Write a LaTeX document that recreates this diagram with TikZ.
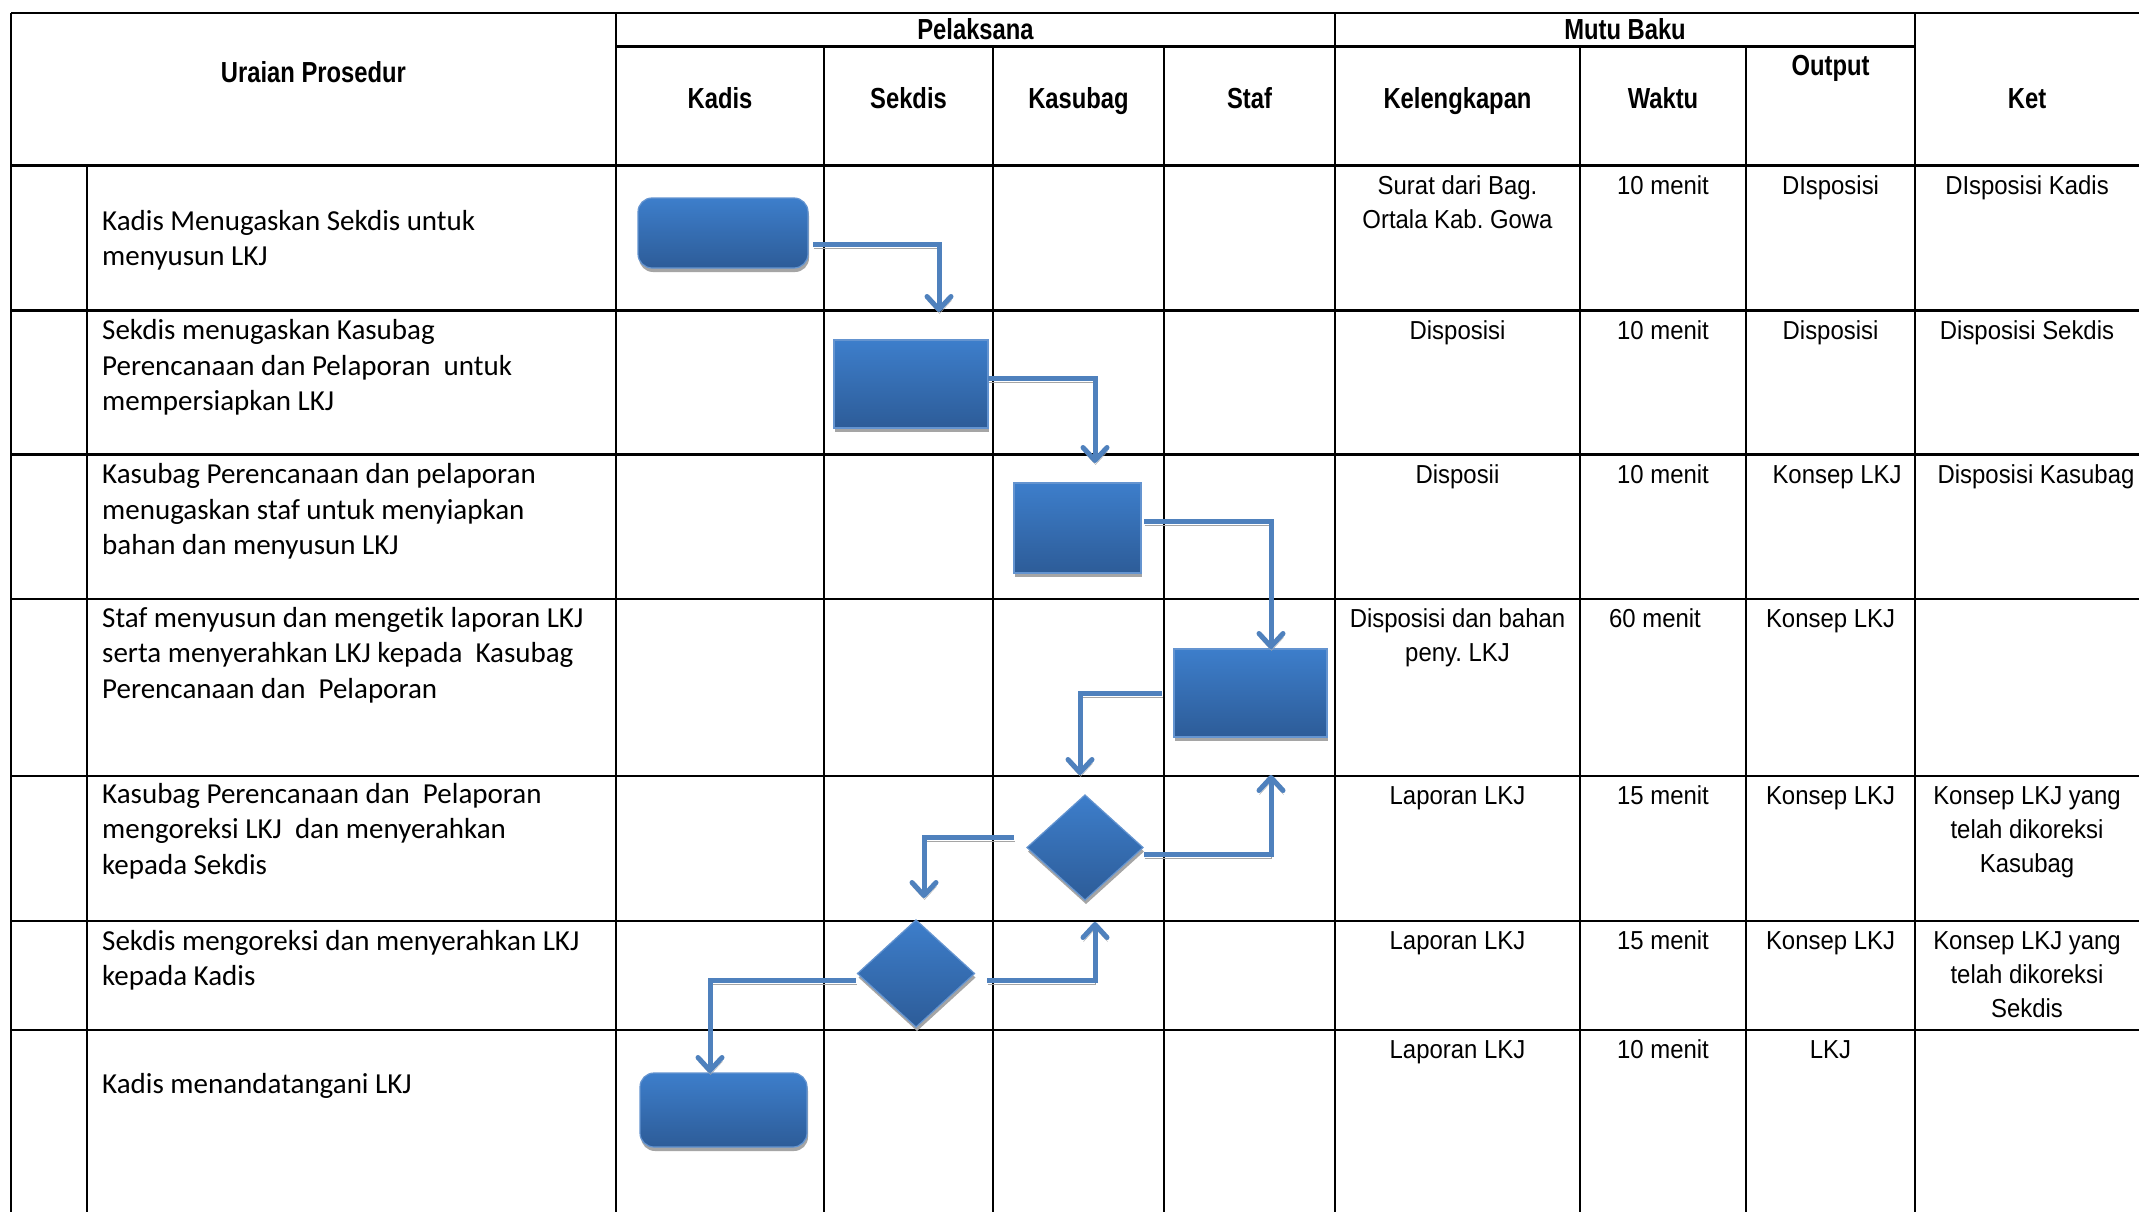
\documentclass[tikz,border=0pt]{standalone}
\usepackage{fontspec}
\usetikzlibrary{shapes.geometric,arrows.meta,shadows}
\newfontfamily\leftfont[Ligatures={NoCommon}]{Carlito}
\newfontfamily\datafont[FakeStretch=0.92]{Liberation Sans}
\newfontfamily\hdrfont[FakeStretch=0.82]{Liberation Sans}
\definecolor{arrc}{RGB}{79,129,189}
\definecolor{shtop}{RGB}{61,126,203}
\definecolor{shbot}{RGB}{45,92,152}
\definecolor{shedge}{RGB}{100,148,208}
\definecolor{shadowc}{RGB}{165,165,165}
\tikzset{
  tline/.style={line width=2.2pt, draw=black},
  lefttxt/.style={anchor=base west, align=left, inner sep=0pt, font=\leftfont\fontsize{29}{35.7}\selectfont},
  datatxt/.style={anchor=base, align=center, inner sep=0pt, font=\datafont\fontsize{26}{34}\selectfont},
  hdrtxt/.style={anchor=base, inner sep=0pt, font=\hdrfont\bfseries\fontsize{29}{34}\selectfont},
  blueshape/.style={draw=shedge, line width=1.2pt, top color=shtop, bottom color=shbot,
    inner sep=0pt, outer sep=0pt,
    drop shadow={shadow xshift=1pt, shadow yshift=-4pt, fill=shadowc, opacity=1}},
  procbox/.style={blueshape, rectangle},
  termbox/.style={blueshape, rectangle, rounded corners=14pt},
  decbox/.style={blueshape, diamond},
  flowarr/.style={draw=arrc, line width=5pt, line join=miter,
    -{Straight Barb[length=13pt,width=24pt,round]},
    preaction={draw=shadowc, transform canvas={shift={(0.5pt,-4pt)}}}}
}
\begin{document}
\frenchspacing
\begin{tikzpicture}[x=1pt,y=-1pt]
\fill[white] (0,0) rectangle (2139,1212);
\useasboundingbox (0,0) rectangle (2139,1212);

% ---------- grid ----------
\draw[tline] (11,13) -- (2139,13);
\draw[tline] (616,46.5) -- (1915,46.5);
\foreach \yy in {165.5,310.5,454.5,599,776,921,1030}
  \draw[tline] (11,\yy) -- (2139,\yy);
\foreach \xx in {11,616,1335,1915}
  \draw[tline] (\xx,13) -- (\xx,1212);
\foreach \xx in {824,993,1164,1580,1746}
  \draw[tline] (\xx,46.5) -- (\xx,1212);
\draw[tline] (87,165.5) -- (87,1212);

% ---------- headers ----------
\node[hdrtxt] (hUraian) at (313.5,82.7) {Uraian Prosedur};
\node[hdrtxt] (hPel) at (975.5,39.3) {Pelaksana};
\node[hdrtxt] (hMutu) at (1625,39.3) {Mutu Baku};
\node[hdrtxt] (hKadis) at (720,108.3) {Kadis};
\node[hdrtxt] (hSekdis) at (908.5,108.3) {Sekdis};
\node[hdrtxt] (hKasubag) at (1078.5,108.3) {Kasubag};
\node[hdrtxt] (hStaf) at (1249.5,108.3) {Staf};
\node[hdrtxt] (hKel) at (1457.5,108.3) {Kelengkapan};
\node[hdrtxt] (hWaktu) at (1663,108.3) {Waktu};
\node[hdrtxt] (hOutput) at (1830.5,76) {Output};
\node[hdrtxt] (hKet) at (2027,108.3) {Ket};

% ---------- left column (anchor = baseline of last line) ----------
\node[lefttxt] (u1) at (102,265.7) {Kadis Menugaskan Sekdis untuk\\menyusun LKJ};
\node[lefttxt] (u2) at (102,410.7) {Sekdis menugaskan Kasubag\\Perencanaan dan Pelaporan\ \ untuk\\mempersiapkan LKJ};
\node[lefttxt] (u3) at (102,554.7) {Kasubag Perencanaan dan pelaporan\\menugaskan staf untuk menyiapkan\\bahan dan menyusun LKJ};
\node[lefttxt] (u4) at (102,698.4) {Staf menyusun dan mengetik laporan LKJ\\serta menyerahkan LKJ kepada\ \ Kasubag\\Perencanaan dan\ \ Pelaporan};
\node[lefttxt] (u5) at (102,874.4) {Kasubag Perencanaan dan\ \ Pelaporan\\mengoreksi LKJ\ \ dan menyerahkan\\kepada Sekdis};
\node[lefttxt] (u6) at (102,985.7) {Sekdis mengoreksi dan menyerahkan LKJ\\kepada Kadis};
\node[lefttxt] (u7) at (102,1093) {Kadis menandatangani LKJ};

% ---------- mutu baku data ----------
\node[datatxt] (k1) at (1457.5,228) {Surat dari Bag.\\Ortala Kab. Gowa};
\node[datatxt] (w1) at (1663,194) {10 menit};
\node[datatxt] (o1) at (1830.5,194) {DIsposisi};
\node[datatxt] (t1) at (2027,194) {DIsposisi Kadis};

\node[datatxt] (k2) at (1457.5,339) {Disposisi};
\node[datatxt] (w2) at (1663,339) {10 menit};
\node[datatxt] (o2) at (1830.5,339) {Disposisi};
\node[datatxt] (t2) at (2027,339) {Disposisi Sekdis};

\node[datatxt] (k3) at (1457.5,483) {Disposii};
\node[datatxt] (w3) at (1663,483) {10 menit};
\node[datatxt] (o3) at (1837,483) {Konsep LKJ};
\node[datatxt] (t3) at (2036,483) {Disposisi Kasubag};

\node[datatxt] (k4) at (1457.5,661.5) {Disposisi dan bahan\\peny. LKJ};
\node[datatxt] (w4) at (1655,627.5) {60 menit};
\node[datatxt] (o4) at (1830.5,627.5) {Konsep LKJ};

\node[datatxt] (k5) at (1457.5,804.5) {Laporan LKJ};
\node[datatxt] (w5) at (1663,804.5) {15 menit};
\node[datatxt] (o5) at (1830.5,804.5) {Konsep LKJ};
\node[datatxt] (t5) at (2027,872.5) {Konsep LKJ yang\\telah dikoreksi\\Kasubag};

\node[datatxt] (k6) at (1457.5,949.5) {Laporan LKJ};
\node[datatxt] (w6) at (1663,949.5) {15 menit};
\node[datatxt] (o6) at (1830.5,949.5) {Konsep LKJ};
\node[datatxt] (t6) at (2027,1017.5) {Konsep LKJ yang\\telah dikoreksi\\Sekdis};

\node[datatxt] (k7) at (1457.5,1058.5) {Laporan LKJ};
\node[datatxt] (w7) at (1663,1058.5) {10 menit};
\node[datatxt] (o7) at (1830.5,1058.5) {LKJ};

% ---------- flow shapes ----------
\node[termbox, minimum width=170pt, minimum height=70pt] (r1) at (723,233) {};
\node[procbox, minimum width=154pt, minimum height=88pt] (r2) at (911,384) {};
\node[procbox, minimum width=127pt, minimum height=90pt] (r3) at (1077.5,528) {};
\node[procbox, minimum width=153pt, minimum height=88pt] (r4) at (1250.5,693) {};
\node[decbox, minimum width=116pt, minimum height=105pt] (d1) at (1085,847.5) {};
\node[decbox, minimum width=117pt, minimum height=107pt] (d2) at (916,973.5) {};
\node[termbox, minimum width=167pt, minimum height=74pt] (r7) at (723.5,1110) {};

% free ends of connectors
\coordinate (e1) at (939,312);
\coordinate (e2) at (1095,463);
\coordinate (e4) at (1080,775);
\coordinate (e5) at (924,898);
\coordinate (e6) at (1271,775);
\coordinate (e7) at (1095,922);

% ---------- connectors ----------
\draw[flowarr] ([xshift=5pt,yshift=-11pt]r1.east) -| (e1);
\draw[flowarr] ([yshift=6pt]r2.east) -| (e2);
\draw[flowarr] ([xshift=3pt,yshift=7pt]r3.east) -| ([xshift=20.5pt]r4.north);
\draw[flowarr] ([xshift=-12pt]r4.west) -| (e4);
\draw[flowarr] ([xshift=-13pt,yshift=10.5pt]d1.west) -| (e5);
\draw[flowarr] ([xshift=1pt,yshift=-6.5pt]d1.east) -| (e6);
\draw[flowarr] ([xshift=12.5pt,yshift=-6.5pt]d2.east) -| (e7);
\draw[flowarr] ([xshift=-1.5pt,yshift=-6.5pt]d2.west) -| ([xshift=-13.5pt]r7.north);
\end{tikzpicture}
\end{document}
